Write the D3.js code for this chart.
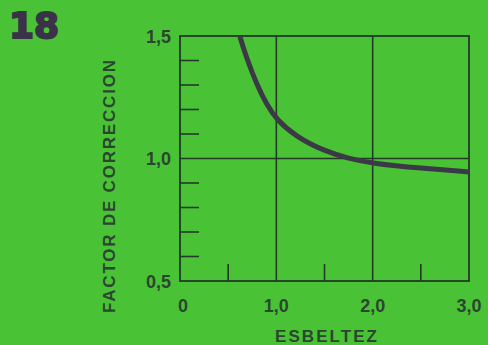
<!DOCTYPE html>
<html>
<head>
<meta charset="utf-8">
<script src="https://cdn.jsdelivr.net/npm/d3@7"></script>
<style>
  html, body { margin: 0; padding: 0; background: #4ac236; }
  svg { display: block; }
</style>
</head>
<body>
<div id="chart"></div>
<script>
// curva del factor de corrección vs esbeltez
const esbeltez = [0.62, 0.70, 0.80, 0.90, 1.00, 1.20, 1.50, 1.75, 2.00, 2.50, 3.00];
const factor   = [1.50, 1.40, 1.30, 1.22, 1.16, 1.09, 1.03, 1.00, 0.98, 0.96, 0.945];
const xTicks = [0, 1, 2, 3];
const xMinor = [0.5, 1.5, 2.5];
const yTicks = [0.5, 1.0, 1.5];
const yMinor = [0.6, 0.7, 0.8, 0.9, 1.1, 1.2, 1.3, 1.4];
const fmt = d => d === 0 ? "0" : d3.format(".1f")(d).replace(".", ",");

const W = 488, H = 345;
const ink = "#233a26";
const txt = "#2a4630";

const svg = d3.select("#chart").append("svg")
    .attr("width", W)
    .attr("height", H);

svg.append("rect").attr("width", W).attr("height", H).attr("fill", "#4ac236");

const x = d3.scaleLinear().domain([0, 3]).range([180, 469]);
const y = d3.scaleLinear().domain([0.5, 1.5]).range([281, 36]);

const g = svg.append("g");

// rejilla: verticales en 1,0 y 2,0, horizontal en 1,0
g.selectAll(".vgrid")
    .data([1, 2])
    .enter()
    .append("line")
    .attr("x1", d => x(d)).attr("x2", d => x(d))
    .attr("y1", y(1.5)).attr("y2", y(0.5))
    .attr("stroke", ink).attr("stroke-width", 1.6);

g.append("line")
    .attr("x1", x(0)).attr("x2", x(3))
    .attr("y1", y(1)).attr("y2", y(1))
    .attr("stroke", ink).attr("stroke-width", 1.6);

// marcas menores hacia dentro
g.selectAll(".ymin")
    .data(yMinor)
    .enter()
    .append("line")
    .attr("x1", x(0)).attr("x2", x(0) + 19)
    .attr("y1", d => y(d)).attr("y2", d => y(d))
    .attr("stroke", ink).attr("stroke-width", 1.6);

g.selectAll(".xmin")
    .data(xMinor)
    .enter()
    .append("line")
    .attr("x1", d => x(d)).attr("x2", d => x(d))
    .attr("y1", y(0.5)).attr("y2", y(0.5) - 17)
    .attr("stroke", ink).attr("stroke-width", 1.6);

// marco
g.append("rect")
    .attr("x", x(0)).attr("y", y(1.5))
    .attr("width", x(3) - x(0)).attr("height", y(0.5) - y(1.5))
    .attr("fill", "none")
    .attr("stroke", ink).attr("stroke-width", 1.8);

// curva
const pts = esbeltez.map((d, i) => [d, factor[i]]);
const line = d3.line()
    .x(d => x(d[0]))
    .y(d => y(d[1]))
    .curve(d3.curveBasis);

g.append("path")
    .datum(pts)
    .attr("d", line)
    .attr("fill", "none")
    .attr("stroke", "#3b3946")
    .attr("stroke-width", 5)
    .attr("stroke-linecap", "butt");

// etiquetas de los ejes
const font = "'Liberation Sans', Arial, sans-serif";

svg.selectAll(".ylab")
    .data(yTicks)
    .enter()
    .append("text")
    .attr("x", 171)
    .attr("y", d => y(d) + 6.5)
    .attr("text-anchor", "end")
    .attr("font-family", font)
    .attr("font-weight", "bold")
    .attr("font-size", 18)
    .attr("fill", txt)
    .text(fmt);

svg.selectAll(".xlab")
    .data(xTicks)
    .enter()
    .append("text")
    .attr("x", d => x(d) + (d === 0 ? 3 : 0))
    .attr("y", 312)
    .attr("text-anchor", "middle")
    .attr("font-family", font)
    .attr("font-weight", "bold")
    .attr("font-size", 18)
    .attr("fill", txt)
    .text(fmt);

svg.append("text")
    .attr("x", 275)
    .attr("y", 342)
    .attr("textLength", 102)
    .attr("lengthAdjust", "spacing")
    .attr("font-family", font)
    .attr("font-weight", "bold")
    .attr("font-size", 17)
    .attr("fill", txt)
    .text("ESBELTEZ");

svg.append("text")
    .attr("transform", "translate(115, 313) rotate(-90)")
    .attr("textLength", 253)
    .attr("lengthAdjust", "spacing")
    .attr("font-family", font)
    .attr("font-weight", "bold")
    .attr("font-size", 17)
    .attr("fill", txt)
    .text("FACTOR  DE  CORRECCION");

// número de figura
svg.append("text")
    .attr("x", 9)
    .attr("y", 38)
    .attr("font-family", "'DejaVu Sans', sans-serif")
    .attr("font-weight", "bold")
    .attr("font-size", 36)
    .attr("fill", "#3a3348")
    .attr("stroke", "#3a3348")
    .attr("stroke-width", 2)
    .text("18");
</script>
</body>
</html>
